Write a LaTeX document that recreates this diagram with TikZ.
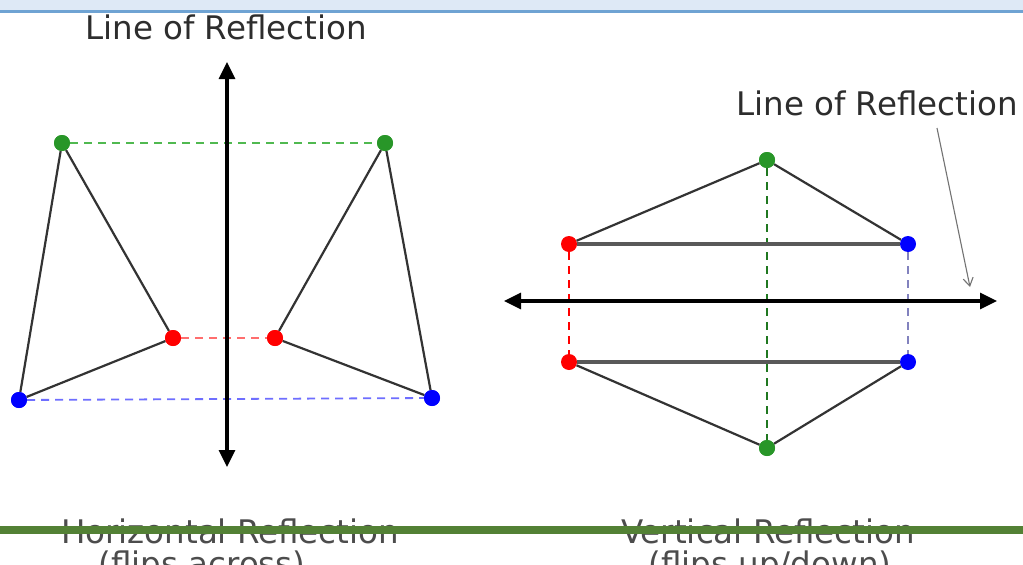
\documentclass[tikz,border=0pt]{standalone}
\usepackage{fontspec}
\setmainfont{DejaVu Sans}
\usetikzlibrary{arrows.meta}
\definecolor{ptgreen}{RGB}{40,150,40}
\definecolor{ptred}{RGB}{255,0,0}
\definecolor{ptblue}{RGB}{0,0,255}
\definecolor{dgreen}{RGB}{80,185,80}
\definecolor{dred}{RGB}{255,110,110}
\definecolor{dblue}{RGB}{110,110,255}
\definecolor{dgblue}{RGB}{130,130,190}
\definecolor{topbar}{RGB}{222,233,246}
\definecolor{topline}{RGB}{111,163,211}
\definecolor{barg}{RGB}{83,129,53}
\definecolor{txt}{RGB}{45,45,45}
\begin{document}
\begin{tikzpicture}[x=1pt,y=-1pt,
  dot/.style={circle,inner sep=0pt,minimum size=16pt,fill=#1},
  edge/.style={line width=2.2pt,draw=black!80},
  hedge/.style={line width=3.2pt,draw=black!65},
  dline/.style={line width=1.8pt,draw=#1,dash pattern=on 8pt off 6pt},
  mirror/.style={line width=3.2pt,draw=black,{Triangle[length=17pt,width=16pt]}-{Triangle[length=17pt,width=16pt]}},
  lbl/.style={font=\fontsize{32.5}{36}\selectfont,text=txt,inner sep=0pt},
  captext/.style={font=\fontsize{32.5}{36}\selectfont,text=black!70,inner sep=0pt}
]
\clip (0,0) rectangle (1023,565);
\fill[white] (0,0) rectangle (1023,565);
\fill[topbar] (0,0) rectangle (1023,10);
\fill[topline] (0,10) rectangle (1023,12.5);

% left figure
\node[dot=ptgreen] (G1) at (62,143) {};
\node[dot=ptgreen] (G2) at (385,143) {};
\node[dot=ptred] (R1) at (173,338) {};
\node[dot=ptred] (R2) at (275,338) {};
\node[dot=ptblue] (B1) at (19,400) {};
\node[dot=ptblue] (B2) at (432,398) {};
\coordinate (LT) at (227,62);
\coordinate (LB) at (227,467);

\draw[dline=dgreen] (G1) -- (G2);
\draw[dline=dred] (R1) -- (R2);
\draw[dline=dblue] (B1) -- (B2);
\draw[edge] (G1) -- (R1);
\draw[edge] (R1) -- (B1);
\draw[edge] (B1) -- (G1);
\draw[edge] (G2) -- (R2);
\draw[edge] (R2) -- (B2);
\draw[edge] (B2) -- (G2);
\draw[mirror] (LB) -- (LT);
\node[dot=ptgreen] at (G1) {};
\node[dot=ptgreen] at (G2) {};
\node[dot=ptred] at (R1) {};
\node[dot=ptred] at (R2) {};
\node[dot=ptblue] at (B1) {};
\node[dot=ptblue] at (B2) {};

\node[lbl] (T1) at (226,27) {Line of Reflection};

% right figure
\node[dot=ptgreen] (G3) at (767,160) {};
\node[dot=ptred] (R3) at (569,244) {};
\node[dot=ptblue] (B3) at (908,244) {};
\node[dot=ptred] (R4) at (569,362) {};
\node[dot=ptblue] (B4) at (908,362) {};
\node[dot=ptgreen] (G4) at (767,448) {};
\coordinate (HL) at (504,301);
\coordinate (HR) at (997,301);

\draw[dline=ptgreen!80!black] (G3) -- (G4);
\draw[dline=ptred] (R3) -- (R4);
\draw[dline=dgblue] (B3) -- (B4);
\draw[edge] (R3) -- (G3);
\draw[edge] (G3) -- (B3);
\draw[hedge] (R3) -- (B3);
\draw[hedge] (R4) -- (B4);
\draw[edge] (R4) -- (G4);
\draw[edge] (G4) -- (B4);
\draw[mirror] (HL) -- (HR);
\node[dot=ptgreen] at (G3) {};
\node[dot=ptgreen] at (G4) {};

\node[lbl] (T2) at (877,103) {Line of Reflection};
\coordinate (PA) at (937,128);
\coordinate (PB) at (970,287);
\draw[line width=1.1pt,draw=black!55,-{Straight Barb[length=8pt,width=10pt]}] (PA) -- (PB);

% captions
\node[captext] (C1) at (230,531) {Horizontal Reflection};
\node[captext] (C2) at (202,567) {(flips across)};
\node[captext] (C3) at (768,531) {Vertical Reflection};
\node[captext] (C4) at (770,567) {(flips up/down)};
\fill[barg] (0,526) rectangle (1023,534);
\end{tikzpicture}
\end{document}
